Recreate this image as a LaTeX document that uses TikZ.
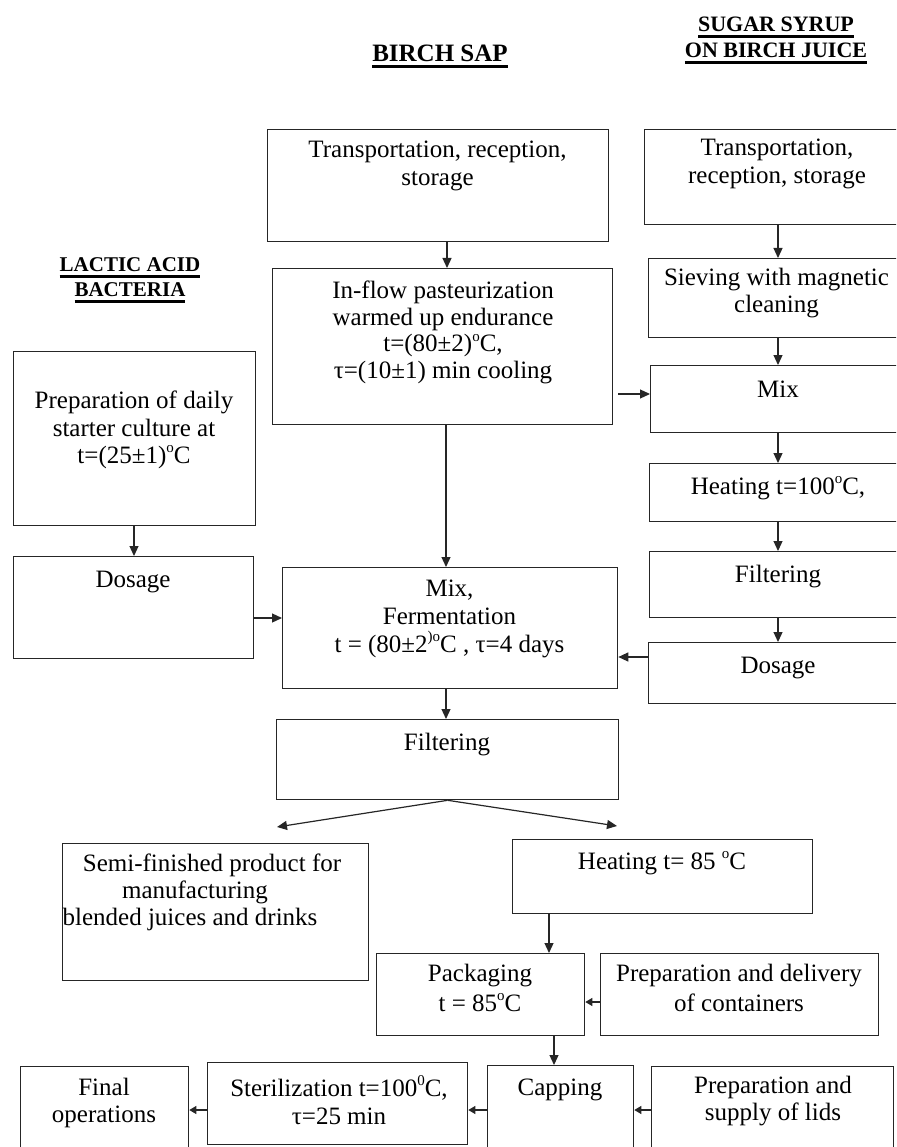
\documentclass[tikz,border=0pt]{standalone}
\usepackage{fontspec}
\setmainfont{Liberation Serif}
\usetikzlibrary{arrows.meta}
\newcommand\hdul[1]{\setbox0\hbox{#1}\rlap{\rule[-6pt]{\wd0}{2.6pt}}\box0}
\newcommand\dg[1]{\raisebox{0.95ex}{\fontsize{15}{15}\selectfont #1}}
\newcommand\bx[5]{\node[box,anchor=north west,minimum width={(#4)-(#2)},minimum height={(#5)-(#3)}] (#1) at (#2,#3) {};}
\begin{document}
\begin{tikzpicture}[x=1pt,y=-1pt,
  box/.style={draw=black!85,line width=1.3pt,inner sep=0pt},
  txt/.style={font=\fontsize{25}{27.5}\selectfont,align=center,inner sep=0pt,anchor=north,execute at begin node=\strut},
  ln/.style={font=\fontsize{25}{27.5}\selectfont,inner sep=0pt,anchor=base},
  hd/.style={font=\bfseries\fontsize{25}{27}\selectfont,inner sep=0pt,anchor=base},
  hdb/.style={font=\bfseries\fontsize{22}{24}\selectfont,inner sep=0pt,anchor=base},
  hdc/.style={font=\bfseries\fontsize{21}{23}\selectfont,inner sep=0pt,anchor=base},
  arr/.style={draw=black!85,line width=1.2pt,-{Triangle[length=10pt,width=9pt]}},
  sarr/.style={draw=black!85,line width=1.2pt,-{Triangle[length=7pt,width=8pt]}}
]
\useasboundingbox (0,0) rectangle (896,1147);
\clip (0,0) rectangle (896,1147);

% headers
\node[hd] (hbirch) at (440,62) {\hdul{BIRCH SAP}};
\node[hdb] (hsug1) at (776,32) {\hdul{SUGAR SYRUP}};
\node[hdb] (hsug2) at (776,58) {\hdul{ON BIRCH JUICE}};
\node[hdc] (hlab1) at (130,272) {\hdul{LACTIC ACID}};
\node[hdc] (hlab2) at (130,297) {\hdul{BACTERIA}};

% boxes
\bx{tbs}{267}{129}{608}{241}
\bx{tss}{644}{129}{905}{224}
\bx{sieve}{648}{258}{905}{337}
\bx{mixss}{650}{365}{905}{432}
\bx{heatc}{649}{463}{905}{521}
\bx{filtss}{649}{551}{905}{617}
\bx{dosss}{648}{642}{905}{703}
\bx{past}{272}{268}{612}{424}
\bx{prep}{13}{351}{255}{525}
\bx{doslab}{13}{556}{253}{658}
\bx{mixf}{282}{567}{617}{688}
\bx{filt}{276}{719}{618}{799}
\bx{semi}{62}{843}{368}{980}
\bx{heatb}{512}{839}{812}{913}
\bx{pack}{376}{953}{584}{1035}
\bx{prepdel}{600}{953}{878}{1035}
\bx{final}{20}{1066}{188}{1170}
\bx{steril}{207}{1062}{467}{1144}
\bx{capping}{487}{1065}{633}{1170}
\bx{lids}{651}{1066}{893}{1170}

% texts
\node[txt] (ttbs) at (437.5,140.75) {Transportation, reception,\\storage};
\node[txt] (ttss) at (777,138.75) {Transportation,\\reception, storage};
\node[txt] (tsieve) at (776.5,267.75) {Sieving with magnetic\\cleaning};
\node[ln] (tmixss) at (778,397) {Mix};
\node[ln] (theatc) at (778,494) {Heating t=100\dg{o}C,};
\node[ln] (tfiltss) at (778,582) {Filtering};
\node[ln] (tdosss) at (778,673) {Dosage};
\node[txt,font=\fontsize{25}{26.7}\selectfont] (tpast) at (443,280.75) {In-flow pasteurization\\warmed up endurance\\t=(80±2)\dg{o}C,\\τ=(10±1) min cooling};
\node[txt] (tprep) at (134,390.75) {Preparation of daily\\starter culture at\\t=(25±1)\dg{o}C};
\node[ln] (tdoslab) at (133,587) {Dosage};
\node[txt,font=\fontsize{25}{28}\selectfont] (tmixf) at (449.5,579.75) {Mix,\\Fermentation\\t = (80±2\dg{)o}C , τ=4 days};
\node[ln] (tfilt) at (447,750) {Filtering};
\node[ln] (tsemi1) at (212,871) {Semi-finished product for};
\node[ln] (tsemi2) at (195,898) {manufacturing};
\node[ln] (tsemi3) at (190,925) {blended juices and drinks};
\node[ln] (theatb) at (662,869) {Heating t= 85 \dg{o}C};
\node[txt] (tpack) at (480,963.75) {Packaging\\[2.5pt]t = 85\dg{o}C};
\node[txt] (tprepdel) at (739,963.75) {Preparation and delivery\\[2.5pt]of containers};
\node[txt] (tfinal) at (104,1077.75) {Final\\operations};
\node[txt] (tsteril) at (339,1075.75) {Sterilization t=100\dg{0}C,\\τ=25 min};
\node[ln] (tcapping) at (560,1095) {Capping};
\node[txt] (tlids) at (773,1075.75) {Preparation and\\supply of lids};

% connectors
\draw[arr] (447,0 |- tbs.south) -- (447,0 |- past.north);
\draw[arr] (778,0 |- tss.south) -- (778,0 |- sieve.north);
\draw[arr] (778,0 |- sieve.south) -- (778,0 |- mixss.north);
\draw[arr] (778,0 |- mixss.south) -- (778,0 |- heatc.north);
\draw[arr] (778,0 |- heatc.south) -- (778,0 |- filtss.north);
\draw[arr] (778,0 |- filtss.south) -- (778,0 |- dosss.north);
\coordinate (p7) at (618,394);
\draw[arr] (p7) -- (p7 -| mixss.west);
\draw[arr] (446,0 |- past.south) -- (446,0 |- mixf.north);
\draw[arr] (134,0 |- prep.south) -- (134,0 |- doslab.north);
\draw[arr] (doslab.east |- 0,618) -- (mixf.west |- 0,618);
\draw[arr] (dosss.west |- 0,657) -- (mixf.east |- 0,657);
\draw[arr] (446,0 |- mixf.south) -- (446,0 |- filt.north);
\coordinate (fl) at (277,827);
\coordinate (fr) at (617,826);
\draw[arr] (filt.south) -- (fl);
\draw[arr] (filt.south) -- (fr);
\draw[arr] (549,0 |- heatb.south) -- (549,0 |- pack.north);
\draw[sarr] (prepdel.west |- 0,1002) -- (pack.east |- 0,1002);
\draw[arr] (554,0 |- pack.south) -- (554,0 |- capping.north);
\draw[sarr] (lids.west |- 0,1110) -- (capping.east |- 0,1110);
\draw[sarr] (capping.west |- 0,1110) -- (steril.east |- 0,1110);
\draw[sarr] (steril.west |- 0,1110) -- (final.east |- 0,1110);
\end{tikzpicture}
\end{document}
